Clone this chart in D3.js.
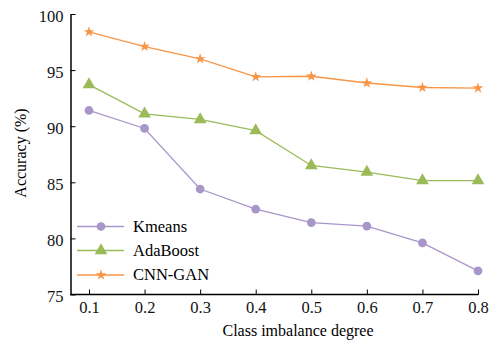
<!DOCTYPE html>
<html>
<head>
<meta charset="utf-8">
<script src="https://cdn.jsdelivr.net/npm/d3@7"></script>
<style>
  body { margin: 0; background: #fff; }
</style>
</head>
<body>
<svg id="chart" width="499" height="344"></svg>
<script>
const degrees = [0.1, 0.2, 0.3, 0.4, 0.5, 0.6, 0.7, 0.8]
const kmeans = [91.4, 89.8, 84.4, 82.6, 81.4, 81.1, 79.6, 77.1]
const adaboost = [93.7, 91.1, 90.6, 89.6, 86.5, 85.9, 85.15, 85.15]
const cnnGan = [98.4, 97.1, 96.0, 94.4, 94.45, 93.85, 93.45, 93.4]
const yTicks = [75, 80, 85, 90, 95, 100]
const seriesNames = ["Kmeans", "AdaBoost", "CNN-GAN"]

const FONT = '"Liberation Serif"'
const colors = {Kmeans: "#a896c9", AdaBoost: "#9bbb59", "CNN-GAN": "#f79646"}
const series = [
  {name: "Kmeans", values: kmeans, mark: "circle"},
  {name: "AdaBoost", values: adaboost, mark: "triangle"},
  {name: "CNN-GAN", values: cnnGan, mark: "star"}
]

const svg = d3.select("#chart")
const x = d3.scaleLinear().domain([0.1, 0.8]).range([89, 478])
const y = d3.scaleLinear().domain([75, 100]).range([294.5, 14])
const left = 70.5, bottom = 294.5

const symbols = {
  circle: d3.symbol().type(d3.symbolCircle).size(60),
  triangle: d3.symbol().type(d3.symbolTriangle).size(70),
  star: d3.symbol().type(d3.symbolStar).size(36)
}

// lines + markers
const line = d3.line().x((d, i) => x(degrees[i])).y(d => y(d))
series.forEach(s => {
  svg.append("path")
    .attr("d", line(s.values))
    .attr("fill", "none")
    .attr("stroke", colors[s.name])
    .attr("stroke-width", 1.3)
  svg.append("g").selectAll("path")
    .data(s.values)
    .enter().append("path")
    .attr("transform", (d, i) => `translate(${x(degrees[i])},${y(d)})`)
    .attr("d", symbols[s.mark]())
    .attr("fill", colors[s.name])
})

// axes (ticks inward)
const yAxis = d3.axisLeft(y).tickValues(yTicks).tickSize(-5).tickPadding(7).tickSizeOuter(0)
svg.append("g")
  .attr("transform", `translate(${left},0)`)
  .call(yAxis)
  .attr("font-family", "Liberation Serif")
  .call(g => g.select(".domain").attr("stroke", "#000").attr("stroke-width", 1.5))
  .selectAll("text").attr("dy", "0.45em").style("font-size", "16.5px").style("font-family", FONT).attr("fill", "#111")

const xAxis = d3.axisBottom(x).tickValues(degrees).tickSize(-5).tickPadding(7).tickSizeOuter(0).tickFormat(d3.format(".1f"))
svg.append("g")
  .attr("transform", `translate(0,${bottom})`)
  .call(xAxis)
  .attr("font-family", "Liberation Serif")
  .call(g => g.select(".domain").attr("d", `M${left},0H478.5`).attr("stroke", "#000").attr("stroke-width", 1.5))
  .selectAll("text").style("font-size", "16.5px").style("font-family", FONT).attr("fill", "#111")

// titles
svg.append("text")
  .attr("x", 298).attr("y", 336)
  .attr("text-anchor", "middle")
  .style("font-size", "16px").style("font-family", FONT)
  .text("Class imbalance degree")

svg.append("text")
  .attr("transform", "translate(26,153) rotate(-90)")
  .attr("text-anchor", "middle")
  .style("font-size", "16px").style("font-family", FONT)
  .text("Accuracy (%)")

// legend
const legendRows = [226.5, 250.5, 275]
series.forEach((s, i) => {
  const g = svg.append("g").attr("transform", `translate(0,${legendRows[i]})`)
  g.append("line")
    .attr("x1", 77).attr("x2", 124)
    .attr("stroke", colors[s.name]).attr("stroke-width", 1.3)
  g.append("path")
    .attr("transform", "translate(101,0)")
    .attr("d", symbols[s.mark]())
    .attr("fill", colors[s.name])
  g.append("text")
    .attr("x", 133).attr("y", 5)
    .style("font-size", "16.5px").style("font-family", FONT)
    .text(seriesNames[i])
})
</script>
</body>
</html>
